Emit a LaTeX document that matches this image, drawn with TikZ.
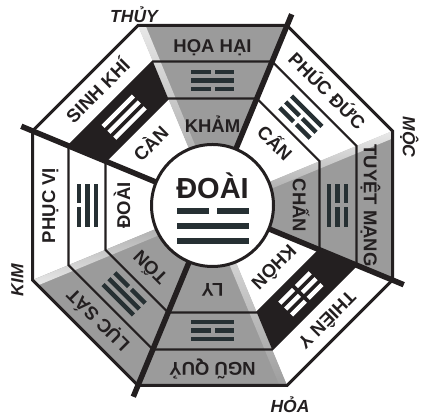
\documentclass[tikz,border=0pt]{standalone}
\usepackage{fontspec}
\setmainfont{Liberation Sans}
\usetikzlibrary{calc}
\definecolor{gr}{HTML}{9B9B9B}
\definecolor{ink}{HTML}{231F20}
\definecolor{tg}{HTML}{263033}
\def\cc{0.92388}
\def\trL{21.5}\def\trT{2.25}\def\trG{2}\def\trS{8.3}
\newcommand\tgbar[2]{%
  \ifnum#2=1
    \fill (-\trL,#1-\trT) rectangle (\trL,#1+\trT);
  \else
    \fill (-\trL,#1-\trT) rectangle (-\trG,#1+\trT);
    \fill (\trG,#1-\trT) rectangle (\trL,#1+\trT);
  \fi}
% #1 angle, #2 colour, #3 inner, #4 middle, #5 outer
\newcommand\trigram[5]{%
  \begin{scope}[shift={($(C)+(#1:125)$)}, rotate=#1-90, fill=#2]
    \tgbar{-\trS}{#3}\tgbar{0}{#4}\tgbar{\trS}{#5}
  \end{scope}}
% #1 angle, #2 colour
\newcommand\sector[2]{%
  \fill[#2] (C) -- ($(C)+(#1-22.5:180/\cc)$) -- ($(C)+(#1+22.5:180/\cc)$) -- cycle;}
\newcommand\blackring[1]{%
  \fill[ink] ($(C)+(#1-22.5:144/\cc)$) -- ($(C)+(#1+22.5:144/\cc)$)
    -- ($(C)+(#1+22.5:107/\cc)$) -- ($(C)+(#1-22.5:107/\cc)$) -- cycle;}
\newcommand\octa[1]{($(C)+(22.5:#1/\cc)$)
  \foreach \k in {1,...,7}{ -- ($(C)+(22.5+45*\k:#1/\cc)$)} -- cycle}
% soft edge: #1 boundary angle, #2 side (+1 or -1)
\newcommand\softedge[2]{%
  \begin{scope}[shift={(C)}, rotate=#1]
    \ifnum#2=1
      \shade[bottom color=white!80!gr, top color=gr] (0,0) rectangle (200,7);
    \else
      \shade[top color=white!80!gr, bottom color=gr] (0,-7) rectangle (200,0);
    \fi
  \end{scope}}
\tikzset{
  band/.style={font=\fontsize{18.5}{20}\selectfont\bfseries, text=ink,
    inner sep=0pt, text height=13.2pt, text depth=0pt},
  elem/.style={font=\fontsize{17.5}{19}\selectfont\bfseries\itshape, text=ink,
    inner sep=0pt, text height=12.5pt, text depth=0pt},
  ringline/.style={draw=ink, line width=2.1pt},
  divider/.style={draw=ink, line width=5.5pt},
}
\begin{document}
\begin{tikzpicture}[x=1pt,y=1pt]
\useasboundingbox (0,0) rectangle (423,419);
\coordinate (C) at (212.5,213.5);
% sectors
\sector{90}{gr}
\sector{135}{white}
\sector{180}{white}
\sector{225}{gr}
\sector{270}{gr}
\sector{315}{white}
\sector{0}{gr}
\sector{45}{white}
\begin{scope}
  \clip \octa{180};
  \softedge{112.5}{-1}
  \softedge{22.5}{-1}
  \softedge{202.5}{1}
  \softedge{292.5}{-1}
\end{scope}
\blackring{135}
\blackring{315}
% ring lines
\draw[ringline] \octa{144};
\draw[ringline] \octa{107};
\draw[draw=ink, line width=3pt, line join=miter] \octa{180};
% dividers
\foreach \a in {67.5,157.5,247.5,337.5}
  \draw[divider] (C) -- ($(C)+(\a:207)$);
% centre circle
\node[circle, draw=ink, fill=white, line width=3pt, minimum size=122pt, inner sep=0pt] (hub) at (C) {};
\node[font=\fontsize{29}{31}\selectfont\bfseries, text=ink, inner sep=0pt, text height=20.8pt, text depth=0pt] (doai) at (212.5,231) {ĐOÀI};
\begin{scope}[shift={(213,193)}, fill=tg]
  \def\trL{36}\def\trT{3}\def\trG{4}\def\trS{14.7}
  \tgbar{-\trS}{1}\tgbar{0}{1}\tgbar{\trS}{0}
\end{scope}
% trigrams
\trigram{90}{tg}{0}{1}{0}
\trigram{135}{white}{1}{1}{1}
\trigram{180}{tg}{1}{1}{0}
\trigram{225}{tg}{0}{1}{1}
\trigram{270}{tg}{1}{0}{1}
\trigram{315}{white}{0}{0}{0}
\trigram{0}{tg}{1}{0}{0}
\trigram{45}{tg}{0}{0}{1}
% outer band labels
\node[band, rotate=0]   (o1) at ($(C)+(90:160)$)  {HỌA HẠI};
\node[band, rotate=45]  (o2) at ($(C)+(135:162)$) {SINH KHÍ};
\node[band, rotate=90]  (o3) at ($(C)+(180:164)$) {PHỤC VỊ};
\node[band, rotate=135] (o4) at ($(C)+(225:162)$) {LỤC SÁT};
\node[band, rotate=180] (o5) at ($(C)+(270:164)$) {NGŨ QUỶ};
\node[band, rotate=225] (o6) at ($(C)+(315:162)$) {THIÊN Y};
\node[band, rotate=-90] (o7) at ($(C)+(0:158)$)   {TUYỆT MẠNG};
\node[band, rotate=-45] (o8) at ($(C)+(45:162)$)  {PHÚC ĐỨC};
% inner band labels
\node[band, rotate=0]   (i1) at ($(C)+(90:80)$)  {KHẢM};
\node[band, rotate=45]  (i2) at ($(C)+(135:87)$) {CÀN};
\node[band, rotate=90]  (i3) at ($(C)+(180:89)$) {ĐOÀI};
\node[band, rotate=135] (i4) at ($(C)+(225:88)$) {TỐN};
\node[band, rotate=180] (i5) at ($(C)+(270:85)$) {LY};
\node[band, rotate=225] (i6) at ($(C)+(315:87)$) {KHÔN};
\node[band, rotate=-90] (i7) at ($(C)+(0:87)$)   {CHẤN};
\node[band, rotate=-45] (i8) at ($(C)+(45:88)$)  {CẤN};
% element labels
\node[elem] (thuy) at (134,403) {THỦY};
\node[elem, rotate=-90] (moc) at (409,282) {MỘC};
\node[elem, rotate=90] (kim) at (17,139) {KIM};
\node[elem] (hoa) at (290,13) {HỎA};
\end{tikzpicture}
\end{document}
